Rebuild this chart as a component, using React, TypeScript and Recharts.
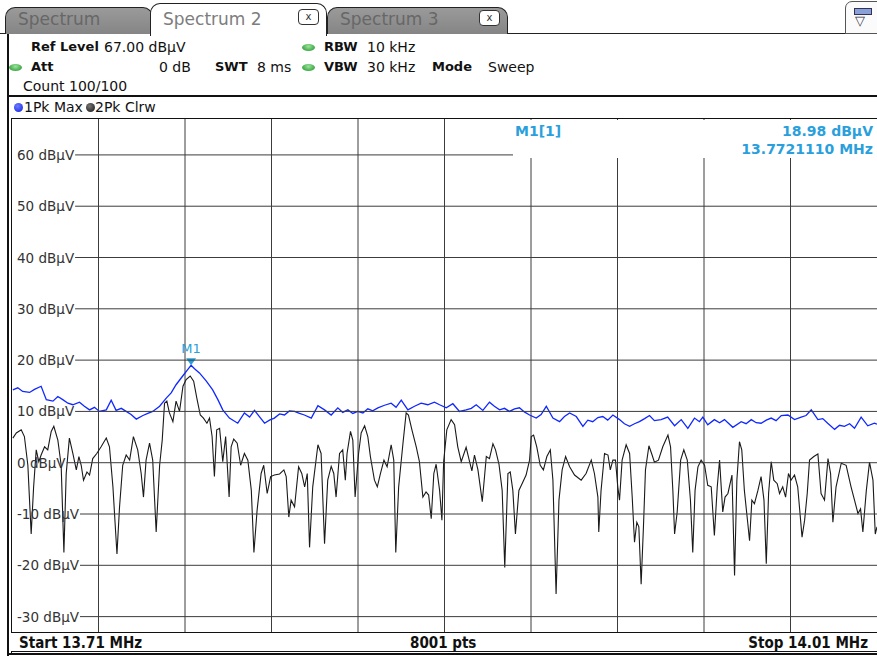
import React from 'react';
import { LineChart, Line, XAxis, YAxis, ReferenceLine, ReferenceDot } from 'recharts';

// sweep settings
const START_MHZ = 13.71;
const STOP_MHZ = 14.01;
const REF_LEVEL = 67;
const BOTTOM_LEVEL = -33;

const GRID_KHZ = [30, 60, 90, 120, 150, 180, 210, 240, 270];
const LEVEL_TICKS = [60, 50, 40, 30, 20, 10, 0, -10, -20, -30];

// trace 1: Pk Max (kHz offset from start, dBµV)
const MAX_KHZ = [
  0.3, 2.0, 3.7, 6.1, 7.8, 10.1, 11.9, 14.2, 15.9, 17.6, 19.4, 21.1, 23.4, 25.1, 26.9, 28.6, 30.3, 32.7, 34.4, 36.1,
  37.9, 39.6, 41.3, 43.1, 45.4, 47.1, 48.8, 51.2, 53.5, 55.2, 56.9, 59.2, 61.0, 62.1, 63.3, 65.0, 67.4, 69.6, 71.4, 73.1,
  75.4, 78.3, 80.6, 82.4, 84.1, 85.8, 87.6, 89.3, 91.0, 92.8, 94.5, 96.2, 98.0, 99.7, 101.4, 103.8, 106.1, 108.4, 110.7, 113.0,
  114.7, 116.5, 118.2, 119.9, 121.7, 123.4, 125.1, 126.9, 129.2, 131.5, 133.2, 135.0, 137.3, 139.6, 141.9, 144.2, 146.5, 148.3, 150.6, 152.9,
  155.2, 157.5, 159.3, 161.0, 163.3, 165.6, 167.3, 169.1, 170.8, 172.5, 174.3, 176.0, 177.7, 179.5, 181.8, 183.5, 185.3, 187.6, 189.9, 191.6,
  193.4, 195.7, 198.0, 199.7, 201.4, 203.2, 204.9, 206.6, 208.4, 210.7, 212.4, 214.2, 215.9, 217.6, 219.4, 221.1, 222.8, 225.1, 227.4, 229.8,
  232.1, 234.4, 236.7, 238.4, 239.6, 241.3, 243.6, 245.4, 247.1, 250.0, 252.9, 254.6, 256.4, 258.1, 259.8, 261.6, 263.3, 265.0, 266.8, 269.1,
  271.4, 273.7, 275.4, 277.2, 279.5, 281.2, 282.9, 285.3, 287.0, 288.7, 290.5, 292.2, 294.5, 296.8, 299.1, 300.0,
];
const MAX_DB = [
  14.2, 14.6, 13.9, 13.7, 14.3, 14.9, 12.3, 12.0, 12.9, 12.3, 11.6, 11.3, 11.8, 11.0, 10.3, 10.8, 10.0, 10.3, 12.2, 10.2,
  10.6, 10.0, 9.4, 8.5, 9.2, 9.6, 10.0, 11.0, 12.6, 13.6, 15.2, 16.9, 18.2, 18.98, 18.3, 17.5, 15.9, 14.2, 12.3, 10.3,
  8.7, 7.7, 9.7, 8.9, 10.2, 9.0, 7.7, 8.3, 8.7, 9.5, 9.3, 10.1, 10.0, 9.6, 9.3, 8.7, 11.1, 10.3, 9.3, 10.7,
  9.8, 10.3, 9.6, 10.0, 9.7, 10.5, 10.1, 10.7, 11.2, 11.6, 10.8, 12.2, 10.3, 11.0, 11.6, 11.3, 11.8, 11.3, 10.7, 11.5,
  10.0, 10.3, 10.6, 11.3, 10.2, 11.8, 11.0, 10.3, 10.6, 10.0, 10.5, 10.7, 9.9, 9.3, 8.7, 9.4, 11.0, 8.7, 8.0, 9.0,
  9.7, 9.0, 7.1, 8.3, 8.0, 8.8, 9.0, 8.3, 9.3, 8.4, 7.6, 7.1, 7.6, 8.0, 8.6, 9.2, 8.2, 8.4, 8.9, 7.2,
  8.4, 6.7, 8.7, 8.0, 8.9, 7.4, 8.4, 7.8, 8.4, 6.9, 8.0, 7.6, 8.4, 7.8, 7.7, 8.3, 8.7, 8.2, 9.2, 9.3,
  8.4, 8.9, 9.2, 10.3, 8.4, 8.6, 7.7, 6.5, 7.3, 7.1, 7.6, 6.7, 8.9, 7.2, 7.7, 7.5,
];

// trace 2: Pk Clrw
const CLRW_KHZ = [
  0.3, 1.5, 3.2, 4.3, 5.5, 6.65, 7.5, 8.4, 9.3, 10.1, 11.3, 12.4, 13.6, 14.5, 15.9, 17.05, 18.0, 18.8, 19.9, 21.1,
  22.3, 23.2, 24.0, 24.8, 26.0, 26.9, 28.0, 29.4, 30.9, 32.7, 33.8, 35.0, 36.4, 37.3, 38.4, 39.6, 40.8, 42.1, 43.6, 44.8,
  45.6, 46.5, 47.7, 48.8, 50.0, 51.2, 52.1, 52.9, 53.7, 54.6, 55.8, 56.9, 58.1, 59.3, 60.4, 61.8, 63.0, 64.1, 65.3, 66.4,
  67.6, 68.5, 69.4, 70.2, 71.0, 72.0, 73.1, 74.1, 75.3, 76.0, 76.9, 78.1, 79.3, 80.6, 81.8, 83.0, 83.9, 85.0, 86.4, 87.3,
  88.5, 89.7, 91.0, 92.8, 94.3, 95.1, 96.0, 96.8, 98.0, 99.4, 100.5, 101.5, 102.4, 103.2, 104.3, 106.1, 107.2, 108.4, 109.5, 110.7,
  111.6, 112.4, 113.6, 114.7, 115.6, 116.2, 117.4, 118.2, 119.0, 120.2, 121.1, 122.3, 123.4, 124.3, 125.7, 126.7, 127.8, 129.0, 130.1, 131.5,
  132.4, 133.1, 134.1, 135.6, 136.7, 137.5, 138.7, 140.2, 141.3, 142.5, 143.6, 144.5, 145.4, 146.3, 147.1, 148.3, 149.1, 149.7, 150.8, 152.3,
  153.5, 154.6, 155.8, 157.5, 158.7, 159.5, 160.4, 161.6, 163.1, 164.5, 165.6, 166.8, 167.7, 168.9, 170.0, 170.9, 172.0, 172.8, 173.7, 174.6,
  175.8, 176.9, 178.3, 179.5, 180.1, 180.9, 182.0, 183.2, 184.3, 185.5, 186.7, 187.6, 188.7, 189.7, 190.8, 192.0, 193.4, 195.1, 197.4, 199.1,
  200.9, 202.0, 203.2, 203.5, 204.3, 205.5, 206.7, 207.5, 208.4, 209.3, 210.1, 210.7, 211.6, 213.0, 214.2, 215.1, 215.9, 216.7, 217.4, 218.2,
  219.0, 219.7, 220.9, 222.0, 222.8, 224.2, 225.7, 227.5, 228.4, 229.2, 229.8, 230.7, 231.9, 233.0, 234.2, 235.3, 236.1, 236.9, 237.9, 239.0,
  240.2, 241.3, 242.5, 243.6, 244.6, 245.4, 246.5, 247.3, 248.3, 249.7, 250.6, 251.4, 252.3, 253.1, 254.0, 255.2, 255.8, 256.6, 257.5, 258.7,
  259.8, 260.8, 261.6, 262.4, 263.3, 264.2, 265.4, 266.2, 267.3, 268.3, 269.3, 270.2, 271.4, 272.5, 273.5, 274.0, 274.9, 275.8, 276.6, 278.1,
  279.5, 280.6, 281.8, 283.0, 283.9, 284.7, 285.8, 287.6, 289.3, 291.0, 292.2, 293.4, 294.3, 295.1, 296.3, 297.4, 298.6, 299.4, 300.0,
];
const CLRW_DB = [
  4.8, 5.8, 6.4, 5.1, -0.5, -13.9, -4.7, 2.5, 0.2, 1.5, 3.1, 2.5, 6.1, 7.1, 4.4, -0.5, -17.5, -2.1, 4.8, 1.8,
  -1.4, 1.2, -0.5, -3.4, -1.8, -2.4, 0.8, 1.8, 3.1, 4.8, 3.1, -4.7, -17.8, -8.6, -0.5, 1.5, 0.5, 5.1, 2.5, -2.1,
  -6.7, 0.5, 3.8, 0.5, -13.5, -0.5, 4.4, 11.6, 12.0, 9.7, 8.0, 12.0, 10.0, 14.9, 16.2, 16.9, 15.9, 12.6, 9.3, 8.7,
  7.7, 8.7, 5.1, -2.7, 6.4, 6.7, 0.2, 5.1, -6.7, 3.1, 4.6, 3.8, -0.5, 1.8, 0.5, -5.4, -17.5, -9.3, -2.1, -0.5,
  -6.0, -2.7, -2.4, -2.2, -1.4, -2.7, -10.6, -7.3, -8.6, -0.8, -2.1, -4.7, -2.1, -16.5, -4.7, 3.5, 1.8, -15.8, -3.4, -0.7,
  -2.1, -6.7, 1.8, 2.5, -3.4, 1.8, 6.1, 4.4, -6.7, 1.8, 5.8, 7.2, 5.1, 1.2, -3.4, -4.7, -2.1, 0.5, -0.8, 3.5,
  0.5, -17.5, -4.7, 3.8, 9.7, 9.3, 6.4, 3.1, 0.2, -6.7, -5.7, -6.3, -10.9, -2.1, -0.3, -5.4, -11.2, 0.2, 6.4, 8.4,
  7.4, 3.1, 0.2, 3.0, 0.2, -1.6, 1.5, -1.4, -7.6, 1.2, 0.8, 3.7, 2.5, -0.3, -5.4, -20.4, -2.1, -1.8, -5.4, -13.9,
  -5.4, -4.1, -2.4, 0.5, 5.1, 5.4, 3.1, -0.5, -1.4, 1.2, 2.5, -3.4, -25.6, -7.3, -1.4, 1.2, -0.8, -2.4, -3.4, -2.1,
  0.5, -2.1, -6.7, -13.5, -5.4, 1.8, 1.5, -1.4, 0.5, 0.5, -4.7, -7.3, 0.5, 3.5, 1.8, -6.7, -15.5, -11.6, -12.5, -23.7,
  -12.5, -1.4, 3.3, 1.5, 0.1, 0.5, 3.1, 5.4, 3.1, -5.4, -13.9, -9.6, 0.5, 2.5, 0.5, -7.3, -17.5, -5.4, -0.8, 0.5,
  -0.5, -4.4, -4.7, -14.2, -4.7, 0.5, -9.6, -6.7, -6.0, -2.4, -22.0, -3.4, 4.1, 2.5, -5.4, -11.9, -15.2, -7.3, -8.0, -5.4,
  -2.7, -7.3, -19.7, -6.0, 0.2, -3.4, -4.1, -6.0, -4.7, -6.7, -2.1, -3.4, -2.4, -4.7, -11.2, -14.5, -11.2, -6.0, 0.5, 1.2,
  1.7, -6.0, -7.3, 0.8, -2.1, -11.6, -4.7, -0.1, -0.5, -4.7, -7.3, -9.9, -9.0, -13.5, -5.4, 0.1, -3.4, -13.9, -12.5,
];

const MARKER_MHZ = 13.772111;
const MARKER_DB = 18.98;

const toMhz = (k: number) => +(START_MHZ + k / 1000).toFixed(6);
const maxData = MAX_KHZ.map((k, i) => ({ f: toMhz(k), v: MAX_DB[i] }));
const clrwData = CLRW_KHZ.map((k, i) => ({ f: toMhz(k), v: CLRW_DB[i] }));

const GRID = '#3c3c3c';
const MARKER_BLUE = '#2a9fdc';
const TRACE_BLUE = '#1028ff';
const FONT = '"DejaVu Sans", Verdana, sans-serif';
const LABEL_FONT = `13.5px ${FONT}`;

let measureCtx: CanvasRenderingContext2D | null = null;
function textWidth(s: string) {
  if (!measureCtx) measureCtx = document.createElement('canvas').getContext('2d');
  if (!measureCtx) return s.length * 8;
  measureCtx.font = LABEL_FONT;
  return measureCtx.measureText(s).width;
}

// level label inside the plot, grid line starts right after the text
function LevelTick(props: any) {
  const { y, payload } = props;
  const label = `${payload.value} dBµV`;
  const x0 = 17;
  const w = textWidth(label);
  return (
    <g>
      <text x={x0} y={y} dy={5} style={{ font: LABEL_FONT }} fill="#333">{label}</text>
      <line x1={x0 + w + 1} x2={877} y1={y} y2={y} stroke={GRID} strokeWidth={1} />
    </g>
  );
}

function MarkerShape(props: any) {
  const { cx, cy } = props;
  return (
    <g>
      <path d={`M${cx - 5},${cy - 7} L${cx + 5},${cy - 7} L${cx},${cy} Z`} fill={MARKER_BLUE} />
      <text x={cx} y={cy - 12} textAnchor="middle" style={{ font: `13px ${FONT}` }} fill={MARKER_BLUE}>M1</text>
    </g>
  );
}

const abs = (left: number, top: number, extra: React.CSSProperties = {}): React.CSSProperties => ({
  position: 'absolute', left, top, ...extra,
});

function Txt({ x, y, bold, children, size, color = '#111' }: any) {
  return (
    <div style={abs(x, y - 9, { fontSize: size ?? (bold ? 13 : 14), fontWeight: bold ? 'bold' : 'normal', color, whiteSpace: 'nowrap', lineHeight: '18px' })}>
      {children}
    </div>
  );
}

function Led({ x, y }: { x: number; y: number }) {
  return (
    <div style={abs(x, y - 3.5, {
      width: 13, height: 7, borderRadius: '50%',
      background: 'radial-gradient(ellipse at 50% 35%, #9be59b, #3fa847 70%)',
    })} />
  );
}

function CloseBox({ x, y }: { x: number; y: number }) {
  return (
    <div style={abs(x, y, {
      width: 19, height: 14, border: '1px solid #333', borderRadius: 4, background: '#fff',
      fontSize: 10, lineHeight: '13px', textAlign: 'center', color: '#333',
    })}>x</div>
  );
}

function Tab({ x, w, label, active }: { x: number; w: number; label: string; active?: boolean }) {
  return (
    <div style={abs(x, active ? 3 : 7, {
      width: w, height: active ? 33 : 27,
      borderTop: '1.5px solid #222', borderLeft: '1.5px solid #222', borderRight: '1.5px solid #222',
      borderRadius: '10px 10px 0 0',
      background: active ? '#fff' : 'linear-gradient(#9a9a9a, #858585)',
      boxSizing: 'border-box', zIndex: active ? 2 : 1,
    })}>
      <div style={abs(12, active ? 2 : -2, {
        fontSize: 17, color: active ? '#7d7d7d' : '#676767', lineHeight: '26px', whiteSpace: 'nowrap',
      })}>{label}</div>
    </div>
  );
}

export default function App() {
  return (
    <div style={{ position: 'relative', width: 877, height: 657, background: '#fff', overflow: 'hidden', fontFamily: FONT }}>
      <style>{'body{margin:0}'}</style>

      {/* tab strip */}
      <div style={abs(0, 33, { width: 877, height: 0, borderTop: '1.5px solid #222' })} />
      <Tab x={5} w={148} label="Spectrum" />
      <Tab x={150} w={177} label="Spectrum 2" active />
      <Tab x={327} w={181} label="Spectrum 3" />
      <div style={{ position: 'absolute', left: 298, top: 9, zIndex: 3 }}><CloseBox x={0} y={0} /></div>
      <div style={{ position: 'absolute', left: 479, top: 10, zIndex: 3 }}><CloseBox x={0} y={0} /></div>
      <div style={abs(845, 1, {
        width: 34, height: 33, border: '1.5px solid #555', borderRadius: '7px 0 0 0', background: '#fbfbfb', boxSizing: 'border-box',
      })}>
        <div style={abs(8, 6, { width: 16, height: 5, border: '1px solid #335', background: '#8aa0d8' })} />
        <div style={abs(9, 12, { fontSize: 13, color: '#334', lineHeight: '14px' })}>▽</div>
      </div>

      {/* left border of the window */}
      <div style={abs(7, 34, { width: 0, height: 622, borderLeft: '2px solid #111' })} />

      {/* setting panel */}
      <Txt x={31} y={47} bold>Ref Level</Txt>
      <Txt x={104} y={47}>67.00 dBµV</Txt>
      <Led x={302} y={47} />
      <Txt x={324} y={47} bold>RBW</Txt>
      <Txt x={367} y={47}>10 kHz</Txt>
      <Led x={9} y={67} />
      <Txt x={31} y={67} bold>Att</Txt>
      <Txt x={159} y={67}>0 dB</Txt>
      <Txt x={215} y={67} bold>SWT</Txt>
      <Txt x={257} y={67}>8 ms</Txt>
      <Led x={302} y={67} />
      <Txt x={324} y={67} bold>VBW</Txt>
      <Txt x={367} y={67}>30 kHz</Txt>
      <Txt x={432} y={67} bold>Mode</Txt>
      <Txt x={488} y={67}>Sweep</Txt>
      <Txt x={23} y={86}>Count 100/100</Txt>

      {/* diagram frame */}
      <div style={abs(7, 95, { width: 880, height: 560, borderTop: '2.5px solid #111', borderLeft: '2px solid #111', borderBottom: '2px solid #111', boxSizing: 'border-box' })} />
      <div style={abs(11, 118, { width: 870, height: 0, borderTop: '1px solid #111' })} />
      <div style={abs(11, 118, { width: 0, height: 535, borderLeft: '1px solid #111' })} />
      <div style={abs(14, 103, { width: 9, height: 9, borderRadius: '50%', background: 'radial-gradient(circle at 40% 35%, #6f7cff, #0a1ee0)' })} />
      <Txt x={24} y={107}>1Pk Max</Txt>
      <div style={abs(86, 103, { width: 9, height: 9, borderRadius: '50%', background: 'radial-gradient(circle at 40% 35%, #777, #111)' })} />
      <Txt x={95} y={107}>2Pk Clrw</Txt>

      <div style={abs(0, 0)}>
        <LineChart width={877} height={657} margin={{ top: 119, right: 0, bottom: 25, left: 11 }}>
          <XAxis dataKey="f" type="number" domain={[START_MHZ, STOP_MHZ]} allowDataOverflow hide />
          <YAxis
            type="number" domain={[BOTTOM_LEVEL, REF_LEVEL]} ticks={LEVEL_TICKS} interval={0}
            width={1} axisLine={false} tickLine={false} tick={(p: any) => <LevelTick {...p} />} allowDataOverflow
          />
          {GRID_KHZ.map((k) => (
            <ReferenceLine key={k} x={toMhz(k)} stroke={GRID} strokeWidth={1} />
          ))}
          <Line data={clrwData} dataKey="v" type="linear" stroke="#1a1a1a" strokeWidth={1.1} dot={false} isAnimationActive={false} />
          <Line data={maxData} dataKey="v" type="linear" stroke={TRACE_BLUE} strokeWidth={1.3} dot={false} isAnimationActive={false} />
          <ReferenceDot x={MARKER_MHZ} y={MARKER_DB} shape={<MarkerShape />} />
        </LineChart>
      </div>

      {/* marker table */}
      <div style={abs(513, 120, { width: 364, height: 38, background: '#fff' })} />
      <Txt x={515} y={131} bold size={14} color={MARKER_BLUE}>M1[1]</Txt>
      <div style={abs(700, 122, { width: 173, textAlign: 'right', fontSize: 14, fontWeight: 'bold', color: MARKER_BLUE, lineHeight: '18px' })}>18.98 dBµV</div>
      <div style={abs(700, 140, { width: 173, textAlign: 'right', fontSize: 14, fontWeight: 'bold', color: MARKER_BLUE, lineHeight: '18px' })}>13.7721110 MHz</div>

      {/* bottom status bar */}
      <div style={abs(11, 632, { width: 870, height: 20, borderTop: '1px solid #111', borderBottom: '1px solid #111', background: '#fff', boxSizing: 'border-box' })} />
      <div style={abs(19, 634, { fontSize: 15, fontWeight: 'bold', fontStretch: 'condensed', fontFamily: '"DejaVu Sans Condensed", "DejaVu Sans", sans-serif', lineHeight: '18px', color: '#111' })}>Start 13.71 MHz</div>
      <div style={abs(410, 634, { fontSize: 15, fontWeight: 'bold', fontStretch: 'condensed', fontFamily: '"DejaVu Sans Condensed", "DejaVu Sans", sans-serif', lineHeight: '18px', color: '#111' })}>8001 pts</div>
      <div style={abs(680, 634, { width: 188, textAlign: 'right', fontSize: 15, fontWeight: 'bold', fontStretch: 'condensed', fontFamily: '"DejaVu Sans Condensed", "DejaVu Sans", sans-serif', lineHeight: '18px', color: '#111' })}>Stop 14.01 MHz</div>
    </div>
  );
}
